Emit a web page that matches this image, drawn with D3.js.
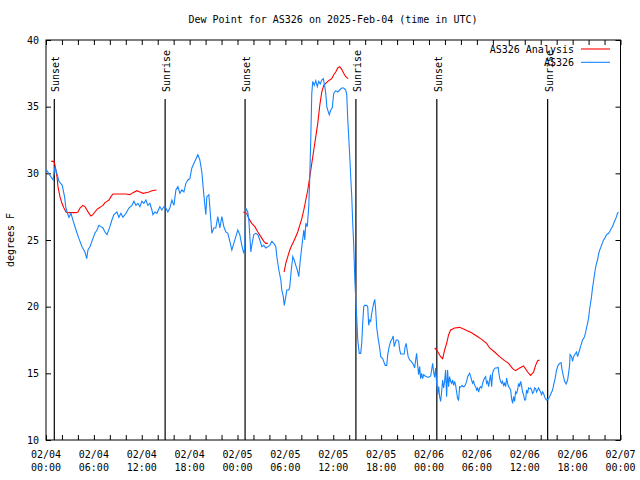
<!DOCTYPE html>
<html>
<head>
<meta charset="utf-8">
<script src="https://cdn.jsdelivr.net/npm/d3@7"></script>
<style>
  html, body { margin: 0; padding: 0; background: #fff; }
  svg { display: block; }
  text { font-family: "DejaVu Sans Mono", monospace; font-size: 10px; fill: #000; }
</style>
</head>
<body>
<svg id="chart" width="640" height="480"></svg>
<script>
// ---------------- DATA ----------------
const titleText = "Dew Point for AS326 on 2025-Feb-04 (time in UTC)";
const yLabelText = "degrees F";
const seriesNames = ["AS326 Analysis", "AS326"];
const startUTC = Date.UTC(2025, 1, 4, 0, 0);
const endUTC = Date.UTC(2025, 1, 7, 0, 0);
const yTicks = [10, 15, 20, 25, 30, 35, 40];

// Hours since 2025-02-04 00:00 UTC
const sunHours = [1.04, 14.93, 24.95, 38.84, 48.98, 62.87];
const sunLabels = ["Sunset", "Sunrise", "Sunset", "Sunrise", "Sunset", "Sunrise"];

const obsHours = [
0,0.88,1.13,1.63,2.04,2.34,2.47,2.63,2.88,3.13,3.42,3.76,4.13,4.51,4.88,5.10,5.26,5.51,5.88,6.13,
6.39,6.64,6.89,7.14,7.39,7.64,8.01,8.26,8.51,8.89,9.14,9.39,9.64,10.02,10.39,10.77,11.02,11.27,11.52,11.77,
12.02,12.27,12.52,12.77,13.02,13.27,13.40,13.65,13.90,14.27,14.52,14.77,15.02,15.27,15.52,15.78,16.03,16.28,16.53,16.78,
17.03,17.28,17.53,17.78,18.03,18.28,18.66,19.03,19.28,19.53,19.78,20.03,20.16,20.41,20.66,20.78,21.03,21.28,21.53,21.79,
22.04,22.29,22.54,22.79,23.04,23.29,23.54,23.79,24.04,24.29,24.54,24.79,24.91,25.04,25.29,25.42,25.67,25.79,26.04,26.29,
26.55,26.80,27.05,27.30,27.55,27.80,28.05,28.30,28.55,28.80,28.93,29.18,29.43,29.55,29.74,29.86,30.05,30.18,30.43,30.55,
30.74,30.93,31.11,31.30,31.49,31.68,31.87,32.06,32.31,32.43,32.56,32.74,32.93,33.06,33.18,33.31,33.43,33.62,33.81,34.00,
34.18,34.37,34.56,34.75,34.94,35.06,35.19,35.31,35.50,35.69,35.87,36.06,36.31,36.56,36.81,37.06,37.31,37.56,37.69,37.82,
37.94,38.07,38.19,38.32,38.44,38.57,38.69,38.82,38.94,39.07,39.26,39.44,39.57,39.69,39.82,39.94,40.19,40.32,40.44,40.57,
40.69,40.82,40.95,41.07,41.20,41.32,41.45,41.63,41.82,41.95,42.20,42.32,42.51,42.70,42.83,43.01,43.20,43.39,43.51,43.64,
43.76,43.89,44.08,44.20,44.33,44.45,44.70,44.89,45.01,45.14,45.26,45.39,45.58,45.77,45.95,46.08,46.20,46.33,46.45,46.58,
46.70,46.83,46.95,47.08,47.20,47.33,47.52,47.71,47.96,48.21,48.33,48.46,48.58,48.71,48.83,48.96,49.08,49.21,49.33,49.46,
49.58,49.71,49.83,49.96,50.08,50.21,50.33,50.46,50.58,50.71,50.83,50.96,51.09,51.21,51.34,51.46,51.59,51.71,51.84,51.96,
52.15,52.28,52.40,52.53,52.72,52.84,52.97,53.09,53.22,53.34,53.47,53.59,53.72,53.84,53.97,54.09,54.22,54.34,54.47,54.60,
54.72,54.85,54.97,55.10,55.22,55.35,55.47,55.60,55.72,55.85,55.97,56.10,56.29,56.47,56.66,56.85,56.97,57.10,57.22,57.35,
57.47,57.60,57.73,57.85,57.98,58.10,58.23,58.35,58.48,58.60,58.73,58.85,58.98,59.10,59.23,59.35,59.48,59.60,59.73,59.85,
59.98,60.11,60.23,60.36,60.48,60.61,60.73,60.86,60.98,61.11,61.23,61.36,61.48,61.61,61.73,61.86,61.98,62.11,62.23,62.36,
62.48,62.61,62.73,62.92,63.11,63.30,63.49,63.61,63.80,63.99,64.18,64.36,64.55,64.68,64.80,64.99,65.18,65.37,65.49,65.62,
65.68,65.87,65.99,66.12,66.24,66.37,66.49,66.62,66.74,66.87,66.99,67.12,67.24,67.37,67.49,67.62,67.74,67.87,67.99,68.12,
68.24,68.37,68.49,68.62,68.74,68.87,68.99,69.12,69.24,69.37,69.50,69.62,69.75,69.87,70.00,70.12,70.25,70.37,70.50,70.62,
70.75,70.87,71.00,71.12,71.25,71.37,71.50,71.62,71.75
];
const obsValues = [
30.3,29.5,30.5,29.4,29.1,28.2,27.5,27.1,26.7,27.0,26.4,25.75,25.1,24.5,24.1,23.6,24.25,24.5,25.1,25.5,
25.75,26.1,26.0,25.9,25.6,25.4,26.0,26.5,26.9,27.1,26.7,27.0,26.7,27.0,27.4,27.6,27.9,27.6,27.75,27.5,
27.9,27.75,28.0,27.6,27.75,27.25,26.9,27.1,27.0,27.5,27.25,27.5,27.4,27.1,27.4,28.0,27.6,28.75,29.0,28.5,
28.75,28.6,29.25,29.5,29.6,30.4,30.9,31.4,31.0,30.1,28.4,26.9,28.25,28.4,26.5,25.5,25.9,25.9,26.75,25.9,
26.75,26.0,25.6,25.5,24.9,24.25,24.75,25.25,25.75,25.4,24.6,24.0,24.4,27.4,27.1,26.5,24.1,24.6,25.4,25.5,
25.4,25.0,24.5,24.6,24.4,24.5,24.6,24.9,24.75,24.5,23.75,22.75,22.0,21.25,20.75,20.1,20.75,21.25,21.25,21.5,
22.75,23.75,23.5,23.1,22.75,22.25,23.5,24.5,25.75,25.0,26.25,26.0,27.5,29.75,32.5,36.0,36.9,36.6,36.95,36.5,
36.9,36.7,37.0,37.1,36.5,36.0,35.0,34.75,34.4,34.75,34.9,36.0,36.2,36.1,36.25,36.4,36.4,36.25,35.9,34.0,
32.75,31.25,29.75,28.25,26.25,24.6,22.25,20.5,19.25,17.5,16.5,16.5,17.25,18.75,20.0,20.1,20.1,20.0,18.6,19.0,
18.9,19.5,19.9,20.25,20.55,19.75,18.4,17.6,16.9,16.25,16.1,15.9,15.6,15.6,16.4,17.0,17.4,17.6,17.8,17.0,
17.25,17.5,17.5,17.4,16.75,16.45,16.45,16.45,17.0,17.25,16.75,16.25,16.0,15.9,15.75,15.6,15.4,16.0,16.5,15.6,
14.9,15.5,14.6,15.0,14.6,14.9,14.8,14.75,14.7,14.8,15.25,15.75,15.1,14.7,15.4,14.25,13.4,14.0,13.25,12.9,
13.6,14.5,13.9,14.4,15.25,13.25,15.25,14.0,14.75,14.4,14.25,14.5,14.1,14.4,14.1,13.6,13.1,13.0,14.0,13.95,
14.1,14.0,14.0,14.1,14.4,14.75,14.9,15.0,14.75,14.5,14.25,14.4,14.1,14.0,13.75,13.9,13.6,13.9,14.0,13.9,
14.25,14.5,14.65,14.75,14.25,14.4,14.0,14.5,14.9,14.0,15.0,15.25,15.4,15.4,15.45,14.65,14.4,14.25,14.4,14.1,
14.25,14.0,14.65,14.25,14.0,13.9,13.75,13.1,12.75,13.25,12.9,13.6,13.5,13.75,14.25,14.0,14.4,14.1,13.6,13.4,
13.0,13.0,13.75,13.5,13.9,13.85,13.9,13.75,13.5,13.6,13.9,13.85,13.6,13.75,13.9,13.75,13.6,13.4,13.6,13.5,
13.25,13.1,13.0,13.05,13.25,13.5,13.75,14.1,14.6,15.25,15.6,15.75,15.8,15.25,14.9,14.4,14.2,14.5,15.0,15.6,
16.4,16.25,15.9,16.25,16.4,16.5,16.6,16.25,16.5,16.75,17.0,17.25,17.5,17.6,17.75,18.05,18.4,18.75,19.1,19.75,
20.25,20.75,21.4,21.9,22.4,22.9,23.25,23.5,23.9,24.2,24.4,24.6,24.8,25.0,25.1,25.25,25.4,25.45,25.5,25.6,
25.75,25.9,26.0,26.2,26.4,26.55,26.75,27.0,27.1
];

// Analysis series (null marks a gap)
const analysisHours = [
0.66,1.00,1.13,1.38,1.50,1.75,2.00,2.25,2.50,2.88,3.26,3.76,4.01,4.26,4.63,4.88,5.13,5.38,5.63,5.88,
6.13,6.39,6.64,6.89,7.14,7.39,7.64,7.89,8.14,8.39,10.02,10.52,10.89,11.39,11.77,12.15,12.52,12.90,13.27,13.84,
19.0,
24.73,25.17,25.42,25.79,26.17,26.55,26.92,27.30,27.55,27.80,
28.8,
29.84,30.05,30.30,30.55,30.80,31.05,31.30,31.55,31.80,32.06,32.31,32.56,32.81,33.06,33.31,33.56,33.81,34.06,34.31,34.56,
34.81,35.06,35.31,35.56,35.81,36.06,36.31,36.56,36.81,37.06,37.31,37.56,37.88,
43.0,
48.71,48.96,49.21,49.46,49.71,49.96,50.21,50.46,50.71,51.21,51.84,52.59,53.34,53.97,54.60,55.22,55.60,56.22,56.85,57.47,
57.98,58.48,58.85,59.35,59.85,60.36,60.73,61.11,61.36,61.61,61.86
];
const analysisValues = [
30.9,30.9,30.6,29.75,29.0,28.25,27.75,27.4,27.1,27.05,27.05,27.05,27.1,27.4,27.6,27.5,27.25,27.0,26.8,26.9,
27.1,27.3,27.4,27.5,27.6,27.8,27.9,28.0,28.25,28.45,28.45,28.4,28.55,28.7,28.6,28.5,28.55,28.6,28.7,28.75,
null,
27.1,27.0,26.6,26.25,26.0,25.6,25.25,24.9,24.75,24.75,
null,
22.6,23.25,23.75,24.25,24.6,24.9,25.25,25.6,26.1,26.6,27.25,28.0,28.75,29.75,30.75,31.75,32.75,33.75,35.1,36.1,
36.6,36.75,36.9,37.0,37.1,37.4,37.6,37.9,38.0,37.8,37.5,37.25,37.1,
null,
16.9,16.75,16.5,16.25,16.1,16.75,17.25,17.9,18.25,18.4,18.45,18.25,18.05,17.8,17.55,17.25,16.9,16.6,16.25,15.95,
15.75,15.35,15.2,15.4,15.55,15.1,14.85,15.1,15.6,15.95,16.0
];

const colors = { analysis: "#ff0000", obs: "#1584ff" };

// ---------------- CHART ----------------
const svg = d3.select("#chart");
const L = 46, R = 620.5, T = 40, B = 440;
const toDate = h => new Date(startUTC + h * 3600e3);

const x = d3.scaleUtc().domain([new Date(startUTC), new Date(endUTC)]).range([L, R]);
const y = d3.scaleLinear().domain([10, 40]).range([B, T]);

const tickDates = d3.utcHour.every(2).range(new Date(startUTC), new Date(endUTC + 1));
const labelDates = d3.utcHour.every(6).range(new Date(startUTC), new Date(endUTC + 1));

// Axes (ticks pointing inward, mirrored)
svg.append("g").attr("transform", `translate(0,${B})`)
  .call(d3.axisBottom(x).tickValues(tickDates).tickSizeInner(-5).tickSizeOuter(0).tickFormat(""))
  .call(g => g.select(".domain").remove());
svg.append("g").attr("transform", `translate(0,${T})`)
  .call(d3.axisTop(x).tickValues(tickDates).tickSizeInner(-5).tickSizeOuter(0).tickFormat(""))
  .call(g => g.select(".domain").remove());
svg.append("g").attr("transform", `translate(${L},0)`)
  .call(d3.axisLeft(y).tickValues(yTicks).tickSizeInner(-5).tickSizeOuter(0).tickPadding(7).tickFormat(d3.format("d")))
  .call(g => g.select(".domain").remove())
  .call(g => g.selectAll("text").attr("font-family", "DejaVu Sans Mono").attr("font-size", 10).attr("fill", "#000"));
svg.append("g").attr("transform", `translate(${R},0)`)
  .call(d3.axisRight(y).tickValues(yTicks).tickSizeInner(-5).tickSizeOuter(0).tickFormat(""))
  .call(g => g.select(".domain").remove());
svg.selectAll(".tick line").attr("stroke", "#000");

// X labels, two lines
const xl = svg.append("g");
labelDates.forEach(d => {
  const t = xl.append("text").attr("text-anchor", "middle").attr("x", x(d));
  t.append("tspan").attr("x", x(d)).attr("y", 458).text(d3.utcFormat("%m/%d")(d));
  t.append("tspan").attr("x", x(d)).attr("y", 471).text(d3.utcFormat("%H:%M")(d));
});

// Border
svg.append("rect").attr("x", L).attr("y", T).attr("width", R - L).attr("height", B - T)
  .attr("fill", "none").attr("stroke", "#000").attr("stroke-width", 1);

// Sunrise / sunset markers
sunHours.forEach((h, i) => {
  const xx = x(toDate(h));
  svg.append("line").attr("x1", xx).attr("x2", xx).attr("y1", B).attr("y2", T + 59)
    .attr("stroke", "#000").attr("stroke-width", 1.2);
  svg.append("text").attr("transform", `translate(${xx + 5},${T + 52}) rotate(-90)`)
    .attr("text-anchor", "start").text(sunLabels[i]);
});

// Lines
const clip = svg.append("clipPath").attr("id", "plotclip").append("rect")
  .attr("x", L).attr("y", T).attr("width", R - L).attr("height", B - T);

const obsData = obsHours.map((h, i) => ({ t: toDate(h), v: obsValues[i] }));
const anaData = analysisHours.map((h, i) => ({ t: toDate(h), v: analysisValues[i] }));
const line = d3.line().defined(d => d.v !== null).x(d => x(d.t)).y(d => y(d.v));

svg.append("path").datum(anaData).attr("clip-path", "url(#plotclip)")
  .attr("fill", "none").attr("stroke", colors.analysis).attr("stroke-width", 1.1).attr("d", line);
svg.append("path").datum(obsData).attr("clip-path", "url(#plotclip)")
  .attr("fill", "none").attr("stroke", colors.obs).attr("stroke-width", 1.1).attr("d", line);

// Legend
const legend = [
  { name: seriesNames[0], color: colors.analysis },
  { name: seriesNames[1], color: colors.obs }
];
legend.forEach((d, i) => {
  const ly = 49 + i * 13.3;
  svg.append("line").attr("x1", 581).attr("x2", 610).attr("y1", ly).attr("y2", ly)
    .attr("stroke", d.color).attr("stroke-width", 1.1);
  svg.append("text").attr("x", 574).attr("y", ly + 4).attr("text-anchor", "end").text(d.name);
});

// Title and y label
svg.append("text").attr("x", 333).attr("y", 23).attr("text-anchor", "middle").text(titleText);
svg.append("text").attr("transform", `translate(14,240) rotate(-90)`)
  .attr("text-anchor", "middle").text(yLabelText);
</script>
</body>
</html>
